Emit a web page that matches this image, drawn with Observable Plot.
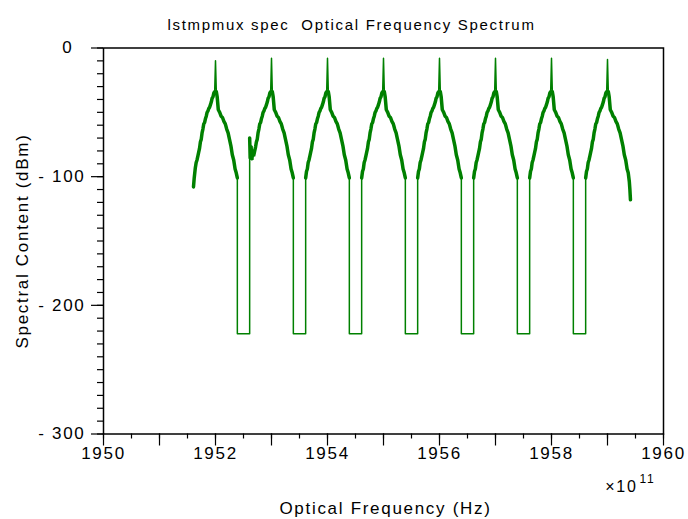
<!DOCTYPE html>
<html><head><meta charset="utf-8">
<script src="https://cdn.jsdelivr.net/npm/d3@7"></script>
<script src="https://cdn.jsdelivr.net/npm/@observablehq/plot@0.6"></script>
<style>
body{margin:0;background:#fff}
svg{font-family:"Liberation Sans",Arial,sans-serif}
svg text{letter-spacing:1.7px}
</style>
</head><body><div id="chart"></div>
<script>
// ---- data (x in units of 1e11 Hz, y in dBm) ----
const peakCenter = [1952, 1953, 1954, 1955, 1956, 1957, 1958, 1959];
const peakTop    = [-10, -8, -8, -8, -8, -8, -8, -9];
// shared shape of each carrier's skirt (offset from carrier, level)
const leftOffset  = [-0.39, -0.375, -0.36, -0.345, -0.33, -0.315, -0.30, -0.285, -0.27, -0.255, -0.24, -0.225, -0.21, -0.195, -0.18, -0.165, -0.15, -0.135, -0.12, -0.105, -0.09, -0.075, -0.06, -0.045, -0.03, -0.015];
const leftLevel   = [-101, -96, -94, -89, -87, -84, -81, -78, -73, -71, -66, -63, -59, -58, -55, -53, -50, -49, -47, -46, -44, -42, -39, -38, -35, -34];
const rightOffset = [0.015, 0.03, 0.05, 0.075, 0.10, 0.125, 0.15, 0.175, 0.20, 0.225, 0.25, 0.275, 0.30, 0.325, 0.35, 0.37, 0.39];
const rightLevel  = [-34, -38, -48, -50, -53, -54, -57, -59, -63, -66, -71, -76, -83, -87, -94, -97, -101];
// per-carrier deviations at the skirt ends
const firstLeftStart  = [[-0.393, -108], [-0.38, -101], [-0.36, -93]];
const secondLeftStart = [[-0.39, -70], [-0.38, -86], [-0.365, -76], [-0.35, -87], [-0.335, -79], [-0.32, -84], [-0.30, -80], [-0.285, -77]];
const lastRightEnd    = [[0.39, -104], [0.40, -110], [0.41, -118]];
// empty channel gaps between carriers
const gapLow = -222, gapFrom = 0.39, gapTo = 0.61;

// axis ticks
const xMinorTicks = d3.range(1950, 1960.01, 0.5);
const xMajorTicks = d3.range(1950, 1961, 1);
const xLabelTicks = [1950, 1952, 1954, 1956, 1958, 1960];
const yMinorTicks = d3.range(-300, 1, 10);
const yMajorTicks = [-300, -200, -100, 0];
const yLabelTicks = [-300, -200, -100];

// ---- build trace ----
function skirt(i) {
  let left = leftOffset.map((o, k) => [o, leftLevel[k]]);
  let right = rightOffset.map((o, k) => [o, rightLevel[k]]);
  if (i === 0) left = firstLeftStart.concat(left.filter(p => p[0] > -0.36));
  if (i === 1) left = secondLeftStart.concat(left.filter(p => p[0] > -0.285));
  if (i === peakCenter.length - 1) right = right.filter(p => p[0] < 0.39).concat(lastRightEnd);
  return {left, right};
}
const trace = [], branches = [];
peakCenter.forEach((c, i) => {
  const {left, right} = skirt(i);
  left.forEach(([o, v]) => { trace.push({f: c + o, v}); branches.push({f: c + o, v, s: "L" + i}); });
  trace.push({f: c, v: peakTop[i]});
  right.forEach(([o, v]) => { trace.push({f: c + o, v}); branches.push({f: c + o, v, s: "R" + i}); });
  if (i < peakCenter.length - 1) {
    trace.push({f: c + gapFrom, v: gapLow});
    trace.push({f: c + gapTo, v: gapLow});
  }
});

const green = "#008000";

const chart = Plot.plot({
  width: 688, height: 519,
  marginLeft: 103, marginRight: 25, marginTop: 47.5, marginBottom: 85.5,
  style: {fontFamily: '"Liberation Sans", Arial, sans-serif', background: "#fff", color: "#000"},
  x: {domain: [1950, 1960]},
  y: {domain: [-300, 0]},
  marks: [
    Plot.line(trace, {x: "f", y: "v", stroke: green, strokeWidth: 1.5}),
    Plot.line(branches, {x: "f", y: "v", z: "s", stroke: green, strokeWidth: 3.5, strokeLinejoin: "miter"}),
    Plot.frame({stroke: "#000", strokeWidth: 1.5}),
    Plot.axisX(xMinorTicks, {tickSize: 5, tickFormat: () => "", label: null, strokeWidth: 1.2}),
    Plot.axisX(xMajorTicks, {tickSize: 12, tickFormat: () => "", label: null, strokeWidth: 1.2}),
    Plot.axisX(xLabelTicks, {tickSize: 0, tickPadding: 13, label: null, tickFormat: d => String(d), fontSize: 17}),
    Plot.axisY(yMinorTicks, {tickSize: 6, tickFormat: () => "", label: null, strokeWidth: 1.2}),
    Plot.axisY(yMajorTicks, {tickSize: 12, tickFormat: () => "", label: null, strokeWidth: 1.2}),
    Plot.axisY(yLabelTicks, {tickSize: 0, tickPadding: 18, label: null, tickFormat: d => "- " + Math.abs(d), fontSize: 17}),
    Plot.axisY([0], {tickSize: 0, tickPadding: 30, label: null, tickFormat: () => "0", fontSize: 17}),
    Plot.text(["lstmpmux spec\u00a0 Optical Frequency Spectrum"], {frameAnchor: "top-left", dx: 248, dy: -23, textAnchor: "middle", lineAnchor: "middle", fontSize: 15}),
    Plot.text(["Optical Frequency (Hz)"], {frameAnchor: "bottom", dx: 2, dy: 75, textAnchor: "middle", lineAnchor: "middle", fontSize: 17}),
    Plot.text(["Spectral Content (dBm)"], {frameAnchor: "left", dx: -81, dy: 0, rotate: -90, textAnchor: "middle", lineAnchor: "middle", fontSize: 17}),
    Plot.text(["×10"], {frameAnchor: "bottom-right", dx: -26, dy: 53, textAnchor: "end", lineAnchor: "middle", fontSize: 16}),
    Plot.text(["11"], {frameAnchor: "bottom-right", dx: -24, dy: 45, textAnchor: "start", lineAnchor: "middle", fontSize: 12})
  ]
});
document.getElementById("chart").appendChild(chart);
</script>
</body></html>
